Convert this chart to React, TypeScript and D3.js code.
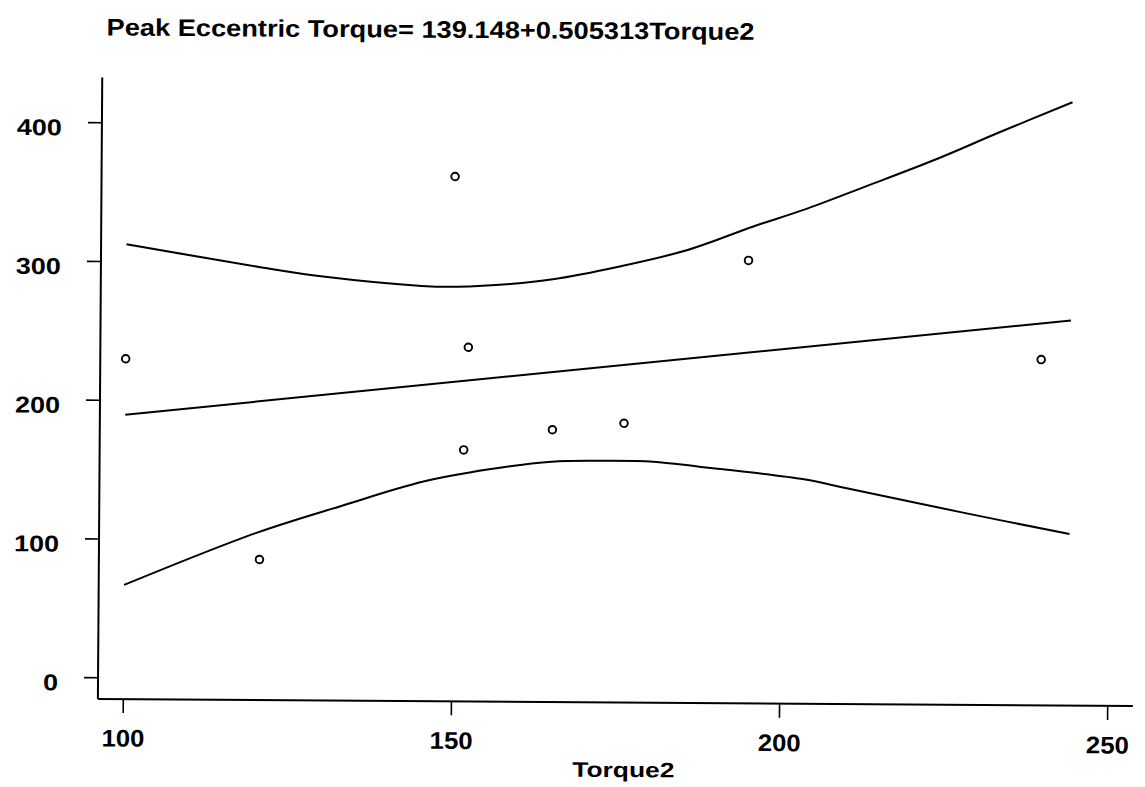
import React from "react";
import * as d3 from "d3";

// ---- data ----
const titleText = "Peak Eccentric Torque= 139.148+0.505313Torque2";
const xTitle = "Torque2";
const xTicks = [100, 150, 200, 250];
const yTicks = [0, 100, 200, 300, 400];

const pointsX = [100, 120.6, 150, 152.2, 151.6, 165.1, 176, 194.8, 239.5];
const pointsY = [230, 86, 363, 240, 166, 181, 186, 304, 234];

const regX = [100, 244];
const regY = [189.7, 262.4];

const upperX = [100, 120, 130, 145, 150.5, 158.5, 165, 175, 185.5, 195.5, 203, 212.5, 223, 233, 244];
const upperY = [312.5, 297, 290.2, 284, 283.6, 285.8, 289.4, 298.8, 311.2, 328.5, 340.5, 357.8, 377.3, 397.8, 419.6];

const lowerX = [100, 120, 133, 145.5, 155.5, 165, 173, 180.5, 187.5, 203.5, 210, 228.3, 244];
const lowerY = [67, 105, 125, 143, 152.2, 158, 158.9, 158.5, 155.1, 146.5, 140.3, 122.8, 108.4];

export default function App() {
  const W = 1145;
  const H = 787;
  const axisLeft = 100;
  const axisBottom = 702.5;
  const axisTop = 81;
  const axisRight = 1135;

  const x = d3.scaleLinear().domain([100, 250]).range([125.4, 1109.8]);
  const y = d3.scaleLinear().domain([0, 400]).range([681.3, 126.3]);

  const line = d3
    .line<[number, number]>()
    .x((d) => x(d[0]))
    .y((d) => y(d[1]))
    .curve(d3.curveCatmullRom.alpha(0.5));

  const zip = (a: number[], b: number[]) => a.map((v, i) => [v, b[i]] as [number, number]);

  const font = "'Liberation Sans', Arial, sans-serif";

  return (
    <svg
      width={W}
      height={H}
      style={{ position: "absolute", left: 0, top: 0, background: "#fff" }}
    >
      <rect x={0} y={0} width={W} height={H} fill="#fff" />
      <g transform="rotate(0.4 615 400)">
        <text
          x={104}
          y={39}
          fontFamily={font}
          fontWeight="bold"
          fontSize={24}
          textLength={648}
          lengthAdjust="spacingAndGlyphs"
          fill="#000"
        >
          {titleText}
        </text>

        {/* axes */}
        <line x1={axisLeft} y1={axisTop} x2={axisLeft} y2={axisBottom} stroke="#000" strokeWidth={2} />
        <line x1={axisLeft} y1={axisBottom} x2={axisRight} y2={axisBottom} stroke="#000" strokeWidth={2} />

        {yTicks.map((t) => (
          <g key={"y" + t}>
            <line x1={axisLeft - 14} x2={axisLeft} y1={y(t)} y2={y(t)} stroke="#000" strokeWidth={1.6} />
            <text
              x={60}
              y={y(t) + 13}
              textAnchor="end"
              fontFamily={font}
              fontWeight="bold"
              fontSize={23}
              textLength={15 * String(t).length}
              lengthAdjust="spacingAndGlyphs"
              fill="#000"
            >
              {t}
            </text>
          </g>
        ))}

        {xTicks.map((t) => (
          <g key={"x" + t}>
            <line x1={x(t)} x2={x(t)} y1={axisBottom} y2={axisBottom + 14} stroke="#000" strokeWidth={1.6} />
            <text
              x={x(t)}
              y={750}
              textAnchor="middle"
              fontFamily={font}
              fontWeight="bold"
              fontSize={24}
              textLength={43}
              lengthAdjust="spacingAndGlyphs"
              fill="#000"
            >
              {t}
            </text>
          </g>
        ))}

        <text
          x={626}
          y={777}
          textAnchor="middle"
          fontFamily={font}
          fontWeight="bold"
          fontSize={21}
          textLength={102}
          lengthAdjust="spacingAndGlyphs"
          fill="#000"
        >
          {xTitle}
        </text>

        {/* regression and confidence bands */}
        <path d={line(zip(upperX, upperY)) || ""} fill="none" stroke="#000" strokeWidth={2} />
        <path d={line(zip(regX, regY)) || ""} fill="none" stroke="#000" strokeWidth={2} />
        <path d={line(zip(lowerX, lowerY)) || ""} fill="none" stroke="#000" strokeWidth={2} />

        {pointsX.map((px, i) => (
          <circle
            key={"p" + i}
            cx={x(px)}
            cy={y(pointsY[i])}
            r={3.8}
            fill="none"
            stroke="#000"
            strokeWidth={1.9}
          />
        ))}
      </g>
    </svg>
  );
}
